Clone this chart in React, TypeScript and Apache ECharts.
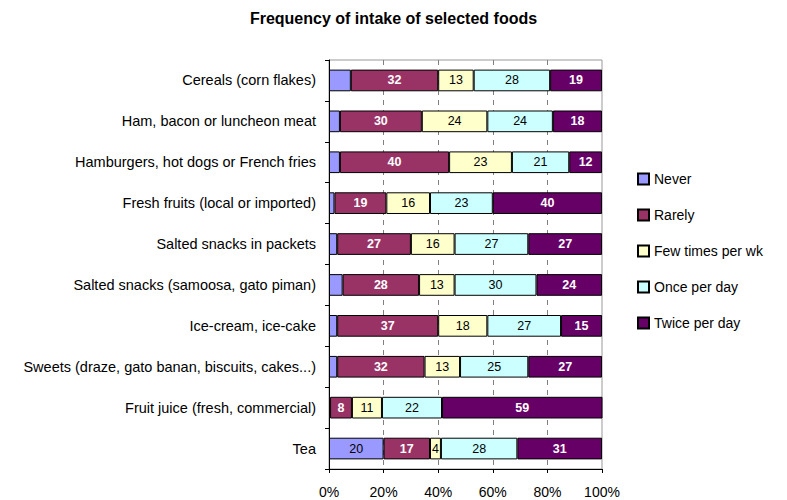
import React, { useEffect, useRef } from "react";
import * as echarts from "echarts";

const categories = [
  "Cereals (corn flakes)",
  "Ham, bacon or luncheon meat",
  "Hamburgers, hot dogs or French fries",
  "Fresh fruits (local or imported)",
  "Salted snacks in packets",
  "Salted snacks (samoosa, gato piman)",
  "Ice-cream, ice-cake",
  "Sweets (draze, gato banan, biscuits, cakes...)",
  "Fruit juice (fresh, commercial)",
  "Tea",
];
const seriesNames = ["Never", "Rarely", "Few times per wk", "Once per day", "Twice per day"];
const never = [8, 4, 4, 2, 3, 5, 3, 3, 0.4, 20];
const rarely = [32, 30, 40, 19, 27, 28, 37, 32, 8, 17];
const fewTimes = [13, 24, 23, 16, 16, 13, 18, 13, 11, 4];
const oncePerDay = [28, 24, 21, 23, 27, 30, 27, 25, 22, 28];
const twicePerDay = [19, 18, 12, 40, 27, 24, 15, 27, 59, 31];
const neverLabelled = ["Tea"];
const xMin = 0;
const xMax = 100;
const xInterval = 20;

const colors = ["#9999FF", "#993366", "#FFFFCC", "#CCFFFF", "#660066"];
const labelColors = ["#000", "#fff", "#000", "#000", "#fff"];
const labelWeights = ["normal", "bold", "normal", "normal", "bold"];
const FONT = "'Liberation Sans', Arial, sans-serif";

export default function App() {
  const ref = useRef<HTMLDivElement>(null);
  useEffect(() => {
    if (!ref.current) return;
    const chart = echarts.init(ref.current, undefined, { renderer: "svg" });
    const allData = [never, rarely, fewTimes, oncePerDay, twicePerDay];
    const series = allData.map((arr, si) => ({
      name: seriesNames[si],
      type: "bar",
      stack: "total",
      barWidth: "53%",
      itemStyle: { color: colors[si], borderColor: "#000", borderWidth: 1 },
      label: {
        show: si !== 0,
        position: "inside",
        color: labelColors[si],
        fontWeight: labelWeights[si],
        fontSize: 12.5,
        fontFamily: FONT,
      },
      data: arr.map((v, i) =>
        si === 0
          ? { value: v, label: { show: neverLabelled.includes(categories[i]) } }
          : v
      ),
    }));
    chart.setOption({
      animation: false,
      backgroundColor: "#fff",
      title: {
        text: "Frequency of intake of selected foods",
        left: "center",
        top: 5,
        textStyle: { fontSize: 16, fontWeight: "bold", color: "#000", fontFamily: FONT },
      },
      legend: {
        orient: "vertical",
        left: 632,
        top: 167,
        itemWidth: 11,
        itemHeight: 11,
        itemGap: 22,
        icon: "rect",
        textStyle: { fontSize: 14, color: "#000", fontFamily: FONT, lineHeight: 14 },
        data: seriesNames,
      },
      grid: {
        left: 329,
        right: 185,
        top: 60,
        bottom: 31,
        show: true,
        borderColor: "#999",
        borderWidth: 1,
        backgroundColor: "#fff",
      },
      xAxis: {
        type: "value",
        min: xMin,
        max: xMax,
        interval: xInterval,
        axisLine: { show: true, lineStyle: { color: "#000", width: 1 } },
        axisTick: { show: true, length: 4, lineStyle: { color: "#000" } },
        axisLabel: {
          formatter: "{value}%",
          color: "#000",
          fontSize: 14,
          fontFamily: FONT,
          margin: 16,
        },
        splitLine: {
          show: true,
          showMinLine: false,
          showMaxLine: false,
          lineStyle: { color: "#808080", type: [5, 5], width: 1 },
        },
      },
      yAxis: {
        type: "category",
        inverse: true,
        data: categories,
        axisLine: { show: true, lineStyle: { color: "#000", width: 1 } },
        axisTick: { show: true, length: 4, lineStyle: { color: "#000" } },
        axisLabel: { color: "#000", fontSize: 14.5, fontFamily: FONT, margin: 13 },
        splitLine: { show: false },
      },
      series,
    });
    return () => chart.dispose();
  }, []);
  return (
    <div
      ref={ref}
      style={{ position: "absolute", left: 0, top: 0, width: 787, height: 500 }}
    />
  );
}
